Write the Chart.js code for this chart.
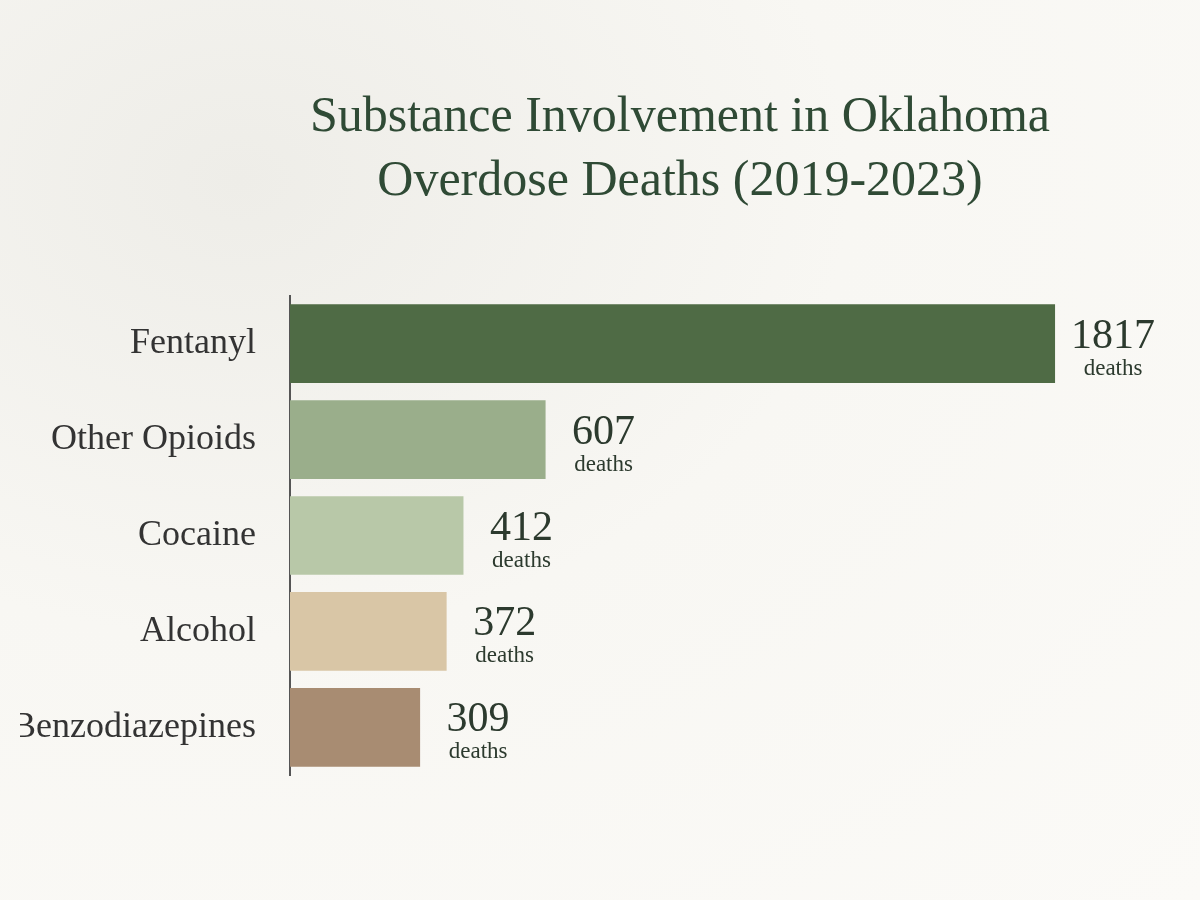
<!DOCTYPE html>
<html>
<head>
<meta charset="utf-8">
<script src="https://cdn.jsdelivr.net/npm/chart.js@4"></script>
<style>
  html, body { margin: 0; padding: 0; background: #f8f7f3; }
  #wrap { position: relative; width: 1200px; height: 900px;
    background: radial-gradient(ellipse at 20% 20%, #eeede8 0%, #f8f7f3 45%, #fbfaf7 100%); }
  h1 { position: absolute; top: 82px; left: 180px; width: 1000px; margin: 0;
    text-align: center; font-family: "Liberation Serif", "DejaVu Serif", serif;
    font-weight: normal; font-size: 50px; line-height: 64px; color: #2f4a35; }
  #overdose-chart { position: absolute; left: 20px; top: 248px; }
</style>
</head>
<body>
<div id="wrap">
  <h1>Substance Involvement in Oklahoma<br>Overdose Deaths (2019-2023)</h1>
  <canvas id="overdose-chart" width="1150" height="575"></canvas>
</div>
<script>
// Data
const substances = ["Fentanyl", "Other Opioids", "Cocaine", "Alcohol", "Benzodiazepines"];
const deaths = [1817, 607, 412, 372, 309];
const barColors = ["#4f6b45", "#9aae8b", "#b8c8a8", "#d9c6a6", "#a88c72"];

// Draw "N deaths" next to each bar
const valueLabels = {
  id: "valueLabels",
  afterDatasetsDraw(chart) {
    const ctx = chart.ctx;
    const meta = chart.getDatasetMeta(0);
    ctx.save();
    ctx.textAlign = "center";
    ctx.fillStyle = "#2c3a2e";
    meta.data.forEach((bar, i) => {
      const cx = bar.x + 58;
      ctx.font = "42px 'Liberation Serif', serif";
      ctx.textBaseline = "alphabetic";
      ctx.fillText(String(deaths[i]), cx, bar.y + 4);
      ctx.font = "23px 'Liberation Serif', serif";
      ctx.fillText("deaths", cx, bar.y + 31);
    });
    ctx.restore();
  }
};

const ctx = document.getElementById("overdose-chart").getContext("2d");
new Chart(ctx, {
  type: "bar",
  data: {
    labels: substances,
    datasets: [{
      data: deaths,
      backgroundColor: barColors,
      barPercentage: 0.82,
      categoryPercentage: 1.0
    }]
  },
  options: {
    indexAxis: "y",
    responsive: false,
    animation: false,
    layout: { padding: { top: 5, bottom: 5 } },
    plugins: { legend: { display: false }, tooltip: { enabled: false } },
    scales: {
      x: {
        min: 0, max: 2090,
        display: false
      },
      y: {
        grid: { display: false },
        border: { display: true, color: "#555", width: 2 },
        ticks: {
          color: "#333",
          padding: 26,
          font: { family: "'Liberation Serif', serif", size: 36 }
        },
        afterFit(scale) { scale.width = 270; }
      }
    }
  },
  plugins: [valueLabels]
});
</script>
</body>
</html>
